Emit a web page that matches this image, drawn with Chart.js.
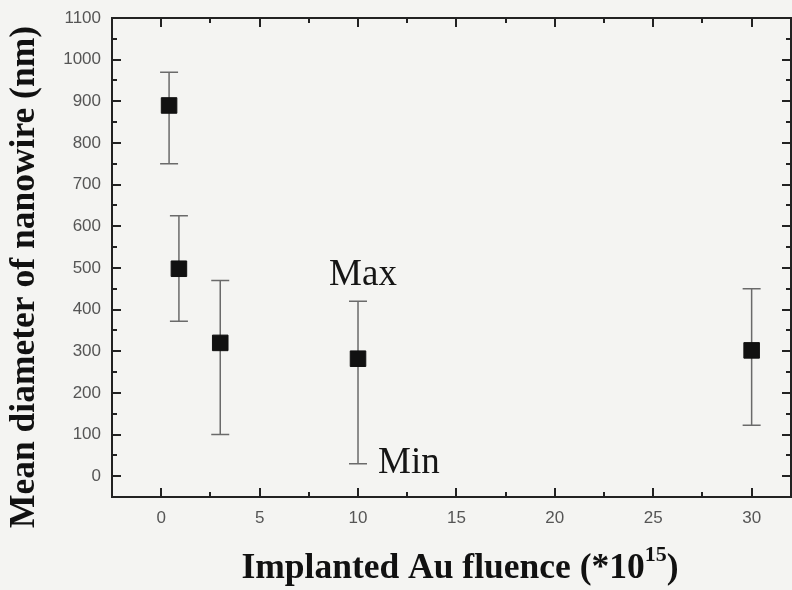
<!DOCTYPE html>
<html>
<head>
<meta charset="utf-8">
<script src="https://cdn.jsdelivr.net/npm/chart.js@4/dist/chart.umd.min.js"></script>
<style>
  html, body { margin: 0; padding: 0; background: #f4f4f2; overflow: hidden; }
  #wrap { width: 792px; height: 590px; }
  canvas { display: block; }
</style>
</head>
<body>
<div id="wrap"><canvas id="c" width="792" height="590"></canvas></div>
<script>
// Au fluence (×10^15) and nanowire diameter statistics (nm)
const fluence   = [0.4, 0.9, 3, 10, 30];
const meanDiam  = [890, 498, 320, 282, 302];
const maxDiam   = [970, 625, 470, 420, 450];
const minDiam   = [750, 372, 100, 30, 122];

const xTickValues = [0, 5, 10, 15, 20, 25, 30];
const yTickValues = [0, 100, 200, 300, 400, 500, 600, 700, 800, 900, 1000, 1100];
const xMinorValues = [-2.5, 2.5, 7.5, 12.5, 17.5, 22.5, 27.5];
const yMinorValues = [-50, 50, 150, 250, 350, 450, 550, 650, 750, 850, 950, 1050];

const xTitle = 'Implanted Au fluence (*10';
const xTitleSup = '15';
const yTitle = 'Mean diameter of nanowire (nm)';

const SERIF = '"Liberation Serif", "Times New Roman", serif';
const SANS = '"Liberation Sans", Arial, sans-serif';

// Background fill
const bgPlugin = {
  id: 'bg',
  beforeDraw(chart) {
    const ctx = chart.ctx;
    ctx.save();
    ctx.fillStyle = '#f4f4f2';
    ctx.fillRect(0, 0, chart.width, chart.height);
    ctx.restore();
  }
};

// Min/max whiskers for each point
const errorBarPlugin = {
  id: 'errorBars',
  beforeDatasetsDraw(chart) {
    const {ctx, scales: {x, y}} = chart;
    ctx.save();
    ctx.strokeStyle = '#6a6a6a';
    ctx.lineWidth = 1.5;
    const cap = 9;
    fluence.forEach((f, i) => {
      const px = x.getPixelForValue(f);
      const top = y.getPixelForValue(maxDiam[i]);
      const bot = y.getPixelForValue(minDiam[i]);
      ctx.beginPath();
      ctx.moveTo(px, top); ctx.lineTo(px, bot);
      ctx.moveTo(px - cap, top); ctx.lineTo(px + cap, top);
      ctx.moveTo(px - cap, bot); ctx.lineTo(px + cap, bot);
      ctx.stroke();
    });
    ctx.restore();
  }
};

// Closed frame with inward ticks on all four sides, axis titles and Max/Min notes
const framePlugin = {
  id: 'frame',
  afterDatasetsDraw(chart) {
    const {ctx, chartArea: a, scales: {x, y}} = chart;
    ctx.save();
    ctx.strokeStyle = '#222';
    ctx.lineWidth = 2;
    ctx.strokeRect(a.left, a.top, a.right - a.left, a.bottom - a.top);

    const major = 9, minor = 5;
    ctx.beginPath();
    const xTick = (v, len) => {
      const px = Math.round(x.getPixelForValue(v));
      ctx.moveTo(px, a.bottom); ctx.lineTo(px, a.bottom - len);
      ctx.moveTo(px, a.top); ctx.lineTo(px, a.top + len);
    };
    const yTick = (v, len) => {
      const py = Math.round(y.getPixelForValue(v));
      ctx.moveTo(a.left, py); ctx.lineTo(a.left + len, py);
      ctx.moveTo(a.right, py); ctx.lineTo(a.right - len, py);
    };
    xTickValues.forEach(v => xTick(v, major));
    xMinorValues.forEach(v => xTick(v, minor));
    yTickValues.forEach(v => yTick(v, major));
    yMinorValues.forEach(v => yTick(v, minor));
    ctx.stroke();

    // Axis titles
    const titleFont = 'bold 35.5px ' + SERIF;
    const supFont = 'bold 22px ' + SERIF;
    ctx.fillStyle = '#111';
    ctx.textBaseline = 'alphabetic';
    ctx.font = titleFont;
    const mainW = ctx.measureText(xTitle).width;
    const closeW = ctx.measureText(')').width;
    ctx.font = supFont;
    const supW = ctx.measureText(xTitleSup).width;
    const total = mainW + supW + closeW;
    const tx = 460 - total / 2;
    const ty = 578;
    ctx.textAlign = 'left';
    ctx.font = titleFont;
    ctx.fillText(xTitle, tx, ty);
    ctx.font = supFont;
    ctx.fillText(xTitleSup, tx + mainW, ty - 17);
    ctx.font = titleFont;
    ctx.fillText(')', tx + mainW + supW, ty);

    ctx.save();
    ctx.translate(25, 277);
    ctx.rotate(-Math.PI / 2);
    ctx.textAlign = 'center';
    ctx.textBaseline = 'middle';
    ctx.fillText(yTitle, 0, 0);
    ctx.restore();

    // Max / Min notes beside the 10×10^15 whisker
    const k = 3;
    const bx = x.getPixelForValue(fluence[k]);
    ctx.font = '37px ' + SERIF;
    ctx.fillStyle = '#151515';
    ctx.textAlign = 'center';
    ctx.textBaseline = 'alphabetic';
    ctx.fillText('Max', bx + 5, y.getPixelForValue(maxDiam[k]) - 16);
    ctx.textAlign = 'left';
    ctx.fillText('Min', bx + 20, y.getPixelForValue(minDiam[k]) + 9);
    ctx.restore();
  }
};

new Chart(document.getElementById('c'), {
  type: 'scatter',
  data: {
    datasets: [{
      data: fluence.map((f, i) => ({x: f, y: meanDiam[i]})),
      pointStyle: 'rect',
      pointRadius: 11,
      pointHoverRadius: 11,
      backgroundColor: '#111',
      borderColor: '#111',
      borderWidth: 1
    }]
  },
  options: {
    responsive: false,
    animation: false,
    events: [],
    layout: { autoPadding: false, padding: { left: 0, right: 1, top: 18, bottom: 0 } },
    plugins: { legend: { display: false }, tooltip: { enabled: false } },
    scales: {
      x: {
        type: 'linear',
        min: -2.5,
        max: 32,
        afterBuildTicks(scale) { scale.ticks = xTickValues.map(v => ({value: v})); },
        afterFit(scale) {
          scale.height = 93;
          scale.paddingLeft = 0; scale.paddingRight = 0;
        },
        grid: { display: false, drawTicks: false },
        border: { display: false },
        ticks: { color: '#555', font: { family: SANS, size: 17 }, padding: 11, maxRotation: 0,
                 callback: v => String(v) }
      },
      y: {
        type: 'linear',
        min: -50,
        max: 1100,
        afterBuildTicks(scale) { scale.ticks = yTickValues.map(v => ({value: v})); },
        afterFit(scale) {
          scale.width = 112;
          scale.paddingTop = 0; scale.paddingBottom = 0;
        },
        grid: { display: false, drawTicks: false },
        border: { display: false },
        ticks: { color: '#555', font: { family: SANS, size: 17 }, padding: 11,
                 callback: v => String(v) }
      }
    }
  },
  plugins: [bgPlugin, errorBarPlugin, framePlugin]
});
</script>
</body>
</html>
